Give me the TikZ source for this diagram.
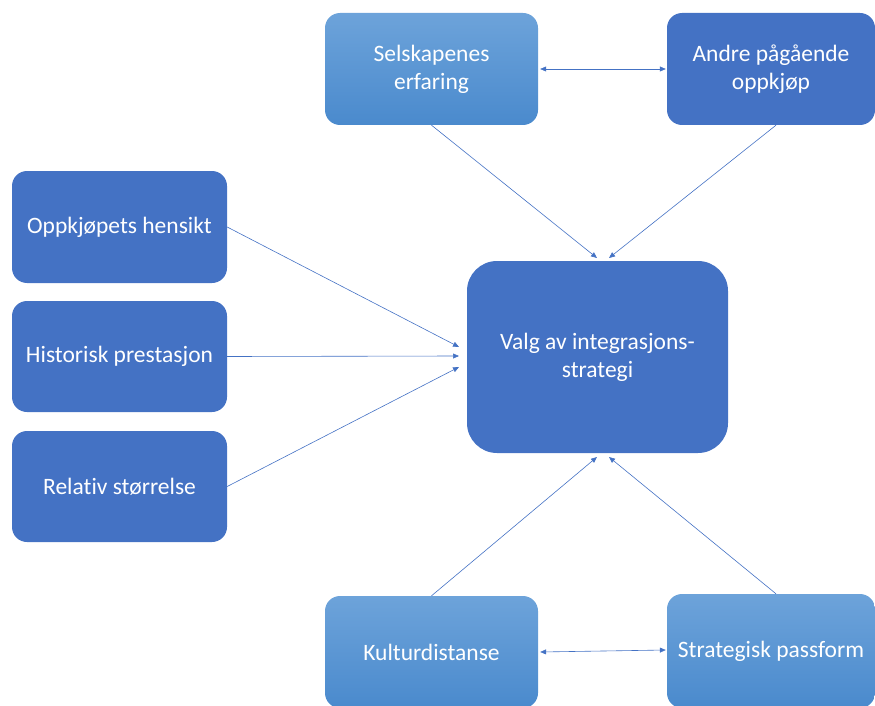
\documentclass[tikz,border=0pt]{standalone}
\usepackage{fontspec}
\setmainfont[Ligatures=NoCommon]{Carlito}
\usetikzlibrary{arrows.meta}
\definecolor{dkblue}{HTML}{4472C4}
\definecolor{ltop}{HTML}{6DA3DA}
\definecolor{lbot}{HTML}{4A8ACD}
\begin{document}
\begin{tikzpicture}[x=1pt,y=-1pt,
  base/.style={rounded corners=15pt, text=white, align=center, font=\fontsize{23.5}{28}\selectfont, inner sep=0pt},
  dark/.style={base, fill=dkblue},
  light/.style={base, top color=ltop, bottom color=lbot},
  conn/.style={draw=dkblue, line width=0.6pt, -{Triangle[length=6pt,width=5pt]}},
  dconn/.style={draw=dkblue, line width=0.6pt, {Triangle[length=6pt,width=5pt]}-{Triangle[length=6pt,width=5pt]}}]
\useasboundingbox (0,0) rectangle (875,706);
\node[light, minimum width=213pt, minimum height=112pt] (sel) at (431.5,69) {Selskapenes\\erfaring};
\node[dark, minimum width=208pt, minimum height=112pt] (and) at (771,69) {Andre pågående\\oppkjøp};
\node[dark, minimum width=215pt, minimum height=112pt] (opp) at (119.5,227) {Oppkjøpets hensikt};
\node[dark, minimum width=215pt, minimum height=111pt] (his) at (119.5,356.5) {Historisk prestasjon};
\node[dark, minimum width=215pt, minimum height=111pt] (rel) at (119.5,486.5) {Relativ størrelse};
\node[dark, rounded corners=30pt, minimum width=261pt, minimum height=192pt] (val) at (597.5,357) {Valg av integrasjons-\\strategi};
\node[light, minimum width=213pt, minimum height=112pt] (kul) at (431.5,652) {Kulturdistanse};
\node[light, minimum width=208pt, minimum height=114pt] (str) at (771,651) {Strategisk passform};
\coordinate (v1) at (597,258);
\coordinate (v2) at (609,258);
\coordinate (l1) at (459,347);
\coordinate (l2) at (459,356);
\coordinate (l3) at (459,367);
\coordinate (b1) at (597,457);
\coordinate (b2) at (609,457);
\draw[conn] (sel.south) -- (v1);
\draw[conn] ([xshift=5pt]and.south) -- (v2);
\draw[conn] (opp.east) -- (l1);
\draw[conn] (his.east) -- (l2);
\draw[conn] (rel.east) -- (l3);
\draw[conn] (kul.north) -- (b1);
\draw[conn] ([xshift=5pt]str.north) -- (b2);
\draw[dconn] ([xshift=2pt]sel.east) -- ([xshift=-1pt]and.west);
\draw[dconn] ([xshift=2pt,yshift=0pt]kul.east) -- ([xshift=-1pt,yshift=1pt]str.west);
\end{tikzpicture}
\end{document}
